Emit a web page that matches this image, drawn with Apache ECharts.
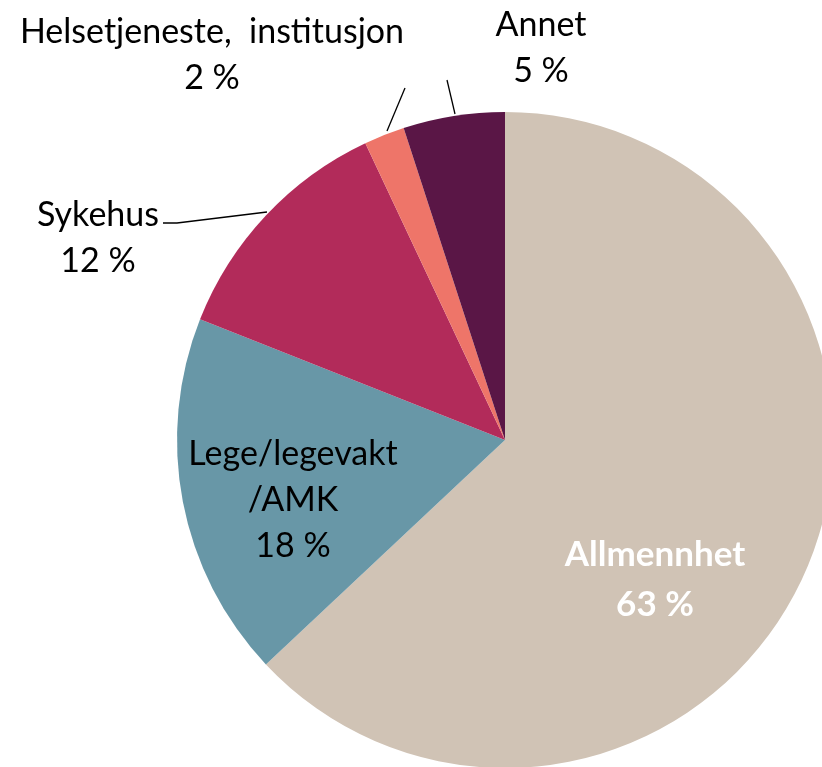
<!DOCTYPE html>
<html>
<head>
<meta charset="utf-8">
<script src="https://cdn.jsdelivr.net/npm/echarts@6/dist/echarts.min.js"></script>
<style>
  html, body { margin: 0; padding: 0; background: #fff; }
  #chart { width: 822px; height: 767px; }
</style>
</head>
<body>
<div id="chart"></div>
<script>
// slices, clockwise from 12 o'clock
const categories = ['Allmennhet', 'Lege/legevakt\n/AMK', 'Sykehus', 'Helsetjeneste,  institusjon', 'Annet'];
const values = [63, 18, 12, 2, 5];
const colors = ['#D0C3B5', '#6897A7', '#B22B5A', '#EE7569', '#5A1646'];

// where each label sits (hand placed like the original)
const labelSpots = [
  { x: 655, y: 580 },
  { x: 293, y: 500 },
  { x: 98, y: 238, labelLinePoints: [[163, 223], [177, 223], [267, 212]] },
  { x: 212, y: 55, labelLinePoints: [[405, 88], [405, 88], [387, 131]] },
  { x: 541, y: 48, labelLinePoints: [[447, 80], [447, 80], [455, 114]] }
];

const chart = echarts.init(document.getElementById('chart'));

const data = categories.map((name, i) => {
  const inside = i < 2;
  return {
    name: name,
    value: values[i],
    itemStyle: { color: colors[i] },
    label: {
      position: inside ? 'inside' : 'outside',
      color: i === 0 ? '#fff' : '#000',
      fontWeight: i === 0 ? 'bold' : 'normal',
      fontSize: i === 0 ? 35 : 34,
      lineHeight: i === 0 ? 50 : 46
    },
    labelLine: { show: !inside }
  };
});

chart.setOption({
  animation: false,
  series: [{
    type: 'pie',
    center: [505, 440],
    radius: 328,
    startAngle: 90,
    clockwise: true,
    avoidLabelOverlap: false,
    itemStyle: { borderWidth: 0 },
    label: {
      formatter: p => p.name + '\n' + p.value + ' %',
      fontFamily: 'Lato',
      fontSize: 34,
      align: 'center'
    },
    labelLine: {
      lineStyle: { color: '#000', width: 1.3 }
    },
    labelLayout: p => Object.assign({ align: 'center', verticalAlign: 'middle' }, labelSpots[p.dataIndex]),
    data: data
  }]
});
</script>
</body>
</html>
